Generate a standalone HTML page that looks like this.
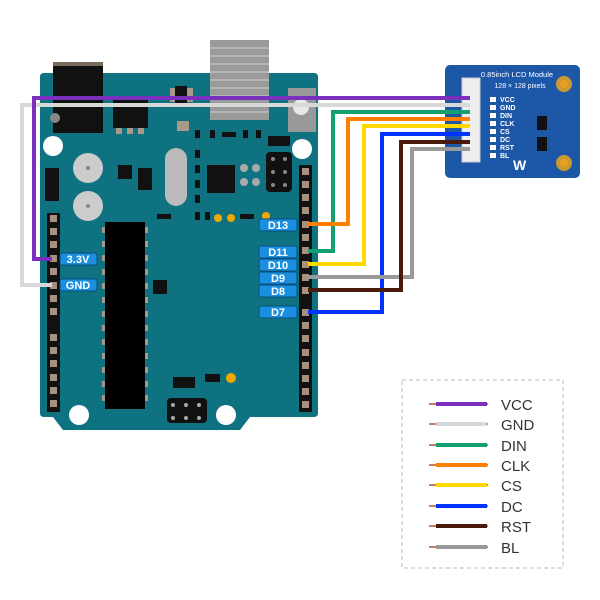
<!DOCTYPE html>
<html><head><meta charset="utf-8"><style>
html,body{margin:0;padding:0;background:#fff;width:600px;height:600px;overflow:hidden}
svg{display:block}
text{font-family:"Liberation Sans",sans-serif}
</style></head><body>
<svg width="600" height="600" viewBox="0 0 600 600" xmlns="http://www.w3.org/2000/svg">
<!-- USB -->
<rect x="210" y="40" width="59" height="80" fill="#9a9a9a"/>
<g stroke="#b5b5b5" stroke-width="2">
<line x1="210" y1="48" x2="269" y2="48"/><line x1="210" y1="56" x2="269" y2="56"/><line x1="210" y1="64" x2="269" y2="64"/><line x1="210" y1="72" x2="269" y2="72"/><line x1="210" y1="80" x2="269" y2="80"/><line x1="210" y1="88" x2="269" y2="88"/><line x1="210" y1="96" x2="269" y2="96"/><line x1="210" y1="104" x2="269" y2="104"/><line x1="210" y1="112" x2="269" y2="112"/>
</g>
<!-- board -->
<path d="M44 73 H314 Q318 73 318 77 V413 Q318 417 314 417 H250 L240 430 H63 L53 417 H44 Q40 417 40 413 V77 Q40 73 44 73 Z" fill="#0f7280"/>
<rect x="210" y="73" width="59" height="47" fill="#9a9a9a"/>
<g stroke="#b5b5b5" stroke-width="2">
<line x1="210" y1="80" x2="269" y2="80"/><line x1="210" y1="88" x2="269" y2="88"/><line x1="210" y1="96" x2="269" y2="96"/><line x1="210" y1="104" x2="269" y2="104"/><line x1="210" y1="112" x2="269" y2="112"/></g>
<!-- power jack -->
<rect x="53" y="62" width="50" height="71" fill="#111"/>
<rect x="53" y="62" width="50" height="4" fill="#7a6a5a"/>
<circle cx="55" cy="118" r="5" fill="#888"/>
<!-- regulator -->
<rect x="113" y="100" width="35" height="28" fill="#111"/>
<rect x="116" y="128" width="6" height="6" fill="#aa9988"/><rect x="127" y="128" width="6" height="6" fill="#aa9988"/><rect x="138" y="128" width="6" height="6" fill="#aa9988"/>
<rect x="170" y="88" width="8" height="14" fill="#aa9988"/><rect x="185" y="88" width="8" height="14" fill="#aa9988"/><rect x="175" y="86" width="12" height="18" fill="#111"/>
<rect x="177" y="121" width="12" height="10" fill="#aa9988"/>
<!-- reset button -->
<rect x="288" y="88" width="28" height="44" fill="#999"/>
<circle cx="301" cy="107" r="8" fill="#e8e8e8"/>
<!-- mounting holes -->
<circle cx="53" cy="146" r="10" fill="#fff"/>
<circle cx="302" cy="149" r="10" fill="#fff"/>
<circle cx="79" cy="415" r="10" fill="#fff"/>
<circle cx="226" cy="415" r="10" fill="#fff"/>
<!-- capacitors -->
<circle cx="88" cy="168" r="15" fill="#ccc"/><circle cx="88" cy="168" r="2" fill="#888"/>
<circle cx="88" cy="206" r="15" fill="#ccc"/><circle cx="88" cy="206" r="2" fill="#888"/>
<rect x="45" y="168" width="14" height="33" fill="#111"/>
<rect x="118" y="165" width="14" height="14" fill="#111"/>
<rect x="138" y="168" width="14" height="22" fill="#111"/>
<!-- crystal -->
<rect x="165" y="148" width="22" height="58" rx="11" fill="#bbb"/>
<!-- ic -->
<rect x="207" y="165" width="28" height="28" fill="#111"/>
<circle cx="244" cy="168" r="4" fill="#aaa"/><circle cx="256" cy="168" r="4" fill="#aaa"/><circle cx="244" cy="182" r="4" fill="#aaa"/><circle cx="256" cy="182" r="4" fill="#aaa"/>
<rect x="266" y="152" width="26" height="40" rx="4" fill="#111"/>
<g fill="#888"><circle cx="273" cy="159" r="2"/><circle cx="285" cy="159" r="2"/><circle cx="273" cy="172" r="2"/><circle cx="285" cy="172" r="2"/><circle cx="273" cy="185" r="2"/><circle cx="285" cy="185" r="2"/></g>
<g fill="#111"><rect x="195" y="130" width="5" height="8"/><rect x="210" y="130" width="5" height="8"/><rect x="222" y="132" width="14" height="5"/><rect x="243" y="130" width="5" height="8"/><rect x="256" y="130" width="5" height="8"/><rect x="268" y="136" width="22" height="10"/>
<rect x="195" y="150" width="5" height="8"/><rect x="195" y="165" width="5" height="8"/><rect x="195" y="180" width="5" height="8"/><rect x="195" y="195" width="5" height="8"/>
<rect x="157" y="214" width="14" height="5"/><rect x="195" y="212" width="5" height="8"/><rect x="205" y="212" width="5" height="8"/><rect x="240" y="214" width="14" height="5"/></g>
<circle cx="218" cy="218" r="4" fill="#f0a800"/><circle cx="231" cy="218" r="4" fill="#f0a800"/><circle cx="266" cy="216" r="4" fill="#f0a800"/>
<!-- big chip -->
<rect x="105" y="222" width="40" height="187" fill="#000"/>
<g fill="#aa9988">
<rect x="102" y="227" width="3" height="6"/><rect x="102" y="241" width="3" height="6"/><rect x="102" y="255" width="3" height="6"/><rect x="102" y="269" width="3" height="6"/><rect x="102" y="283" width="3" height="6"/><rect x="102" y="297" width="3" height="6"/><rect x="102" y="311" width="3" height="6"/><rect x="102" y="325" width="3" height="6"/><rect x="102" y="339" width="3" height="6"/><rect x="102" y="353" width="3" height="6"/><rect x="102" y="367" width="3" height="6"/><rect x="102" y="381" width="3" height="6"/><rect x="102" y="395" width="3" height="6"/>
<rect x="145" y="227" width="3" height="6"/><rect x="145" y="241" width="3" height="6"/><rect x="145" y="255" width="3" height="6"/><rect x="145" y="269" width="3" height="6"/><rect x="145" y="283" width="3" height="6"/><rect x="145" y="297" width="3" height="6"/><rect x="145" y="311" width="3" height="6"/><rect x="145" y="325" width="3" height="6"/><rect x="145" y="339" width="3" height="6"/><rect x="145" y="353" width="3" height="6"/><rect x="145" y="367" width="3" height="6"/><rect x="145" y="381" width="3" height="6"/><rect x="145" y="395" width="3" height="6"/>
</g>
<rect x="153" y="280" width="14" height="14" fill="#111"/><rect x="158" y="286" width="5" height="8" fill="#111"/>
<rect x="173" y="377" width="22" height="11" fill="#111"/>
<rect x="205" y="374" width="15" height="8" fill="#111"/>
<circle cx="231" cy="378" r="5" fill="#f0a800"/>
<rect x="167" y="398" width="40" height="25" rx="4" fill="#111"/>
<g fill="#aaa"><circle cx="173" cy="405" r="2"/><circle cx="186" cy="405" r="2"/><circle cx="199" cy="405" r="2"/><circle cx="173" cy="418" r="2"/><circle cx="186" cy="418" r="2"/><circle cx="199" cy="418" r="2"/></g>
<!-- left header -->
<rect x="47" y="213" width="13" height="199" fill="#111"/>
<g fill="#a89080">
<rect x="50" y="215" width="7" height="7"/><rect x="50" y="228" width="7" height="7"/><rect x="50" y="241" width="7" height="7"/><rect x="50" y="255" width="7" height="7"/><rect x="50" y="268" width="7" height="7"/><rect x="50" y="282" width="7" height="7"/><rect x="50" y="295" width="7" height="7"/><rect x="50" y="308" width="7" height="7"/>
<rect x="50" y="334" width="7" height="7"/><rect x="50" y="347" width="7" height="7"/><rect x="50" y="360" width="7" height="7"/><rect x="50" y="374" width="7" height="7"/><rect x="50" y="387" width="7" height="7"/><rect x="50" y="400" width="7" height="7"/></g>
<!-- right header -->
<rect x="299" y="165" width="13" height="247" fill="#111"/>
<g fill="#a89080">
<rect x="302" y="168" width="7" height="7"/><rect x="302" y="181" width="7" height="7"/><rect x="302" y="194" width="7" height="7"/><rect x="302" y="207" width="7" height="7"/><rect x="302" y="221" width="7" height="7"/><rect x="302" y="234" width="7" height="7"/><rect x="302" y="247" width="7" height="7"/><rect x="302" y="261" width="7" height="7"/><rect x="302" y="274" width="7" height="7"/><rect x="302" y="287" width="7" height="7"/>
<rect x="302" y="309" width="7" height="7"/><rect x="302" y="322" width="7" height="7"/><rect x="302" y="335" width="7" height="7"/><rect x="302" y="349" width="7" height="7"/><rect x="302" y="362" width="7" height="7"/><rect x="302" y="375" width="7" height="7"/><rect x="302" y="388" width="7" height="7"/><rect x="302" y="401" width="7" height="7"/></g>
<!-- labels -->
<g fill="#1a8fe0" stroke="#0a4f7a" stroke-width="1">
<rect x="60" y="253" width="37" height="12" rx="2"/><rect x="60" y="279" width="37" height="12" rx="2"/>
<rect x="259" y="219" width="38" height="12" rx="2"/><rect x="259" y="246" width="38" height="12" rx="2"/><rect x="259" y="259" width="38" height="12" rx="2"/><rect x="259" y="272" width="38" height="12" rx="2"/><rect x="259" y="285" width="38" height="12" rx="2"/><rect x="259" y="306" width="38" height="12" rx="2"/></g>
<g fill="#fff" font-size="11" font-weight="bold" text-anchor="middle">
<text x="78" y="263">3.3V</text><text x="78" y="289">GND</text>
<text x="278" y="229">D13</text><text x="278" y="256">D11</text><text x="278" y="269">D10</text><text x="278" y="282">D9</text><text x="278" y="295">D8</text><text x="278" y="316">D7</text></g>
<!-- LCD module -->
<rect x="445" y="65" width="135" height="113" rx="5" fill="#1d57a8"/>
<text x="517" y="77" font-size="7.5" fill="#fff" text-anchor="middle">0.85inch LCD Module</text>
<text x="520" y="88" font-size="7" fill="#fff" text-anchor="middle">128 × 128 pixels</text>
<circle cx="564" cy="84" r="8" fill="#c89a30"/><circle cx="564" cy="84" r="4" fill="#e8a020"/>
<circle cx="564" cy="163" r="8" fill="#c89a30"/><circle cx="564" cy="163" r="4" fill="#e8a020"/>
<g font-size="7" fill="#fff" font-weight="bold">
<text x="500" y="102">VCC</text><text x="500" y="110">GND</text><text x="500" y="118">DIN</text><text x="500" y="126">CLK</text><text x="500" y="134">CS</text><text x="500" y="142">DC</text><text x="500" y="150">RST</text><text x="500" y="158">BL</text></g>
<g fill="#fff"><rect x="490" y="97" width="6" height="5"/><rect x="490" y="105" width="6" height="5"/><rect x="490" y="113" width="6" height="5"/><rect x="490" y="121" width="6" height="5"/><rect x="490" y="129" width="6" height="5"/><rect x="490" y="137" width="6" height="5"/><rect x="490" y="145" width="6" height="5"/><rect x="490" y="153" width="6" height="5"/></g>
<rect x="537" y="116" width="10" height="14" fill="#111"/><rect x="537" y="137" width="10" height="14" fill="#111"/>
<text x="513" y="170" font-size="14" font-weight="bold" fill="#fff">W</text>
<rect x="462" y="78" width="18" height="84" fill="#eee" stroke="#ccc"/>
<!-- wires -->
<g fill="none" stroke-width="4" stroke-linejoin="miter">
<polyline points="52,285 22,285 22,105 470,105" stroke="#d8d8d8"/>
<polyline points="52,259 34,259 34,98 470,98" stroke="#7b2fbe"/>
<polyline points="308,251 333,251 333,112 470,112" stroke="#12a070"/>
<polyline points="308,224 348,224 348,119 470,119" stroke="#ff8000"/>
<polyline points="308,264 364,264 364,126 470,126" stroke="#ffd800"/>
<polyline points="308,312 382,312 382,134 470,134" stroke="#0033ff"/>
<polyline points="308,277 412,277 412,149 470,149" stroke="#999"/>
<polyline points="308,290 401,290 401,142 470,142" stroke="#4a1a0a"/>
</g>
<!-- legend -->
<rect x="402" y="380" width="161" height="188" fill="none" stroke="#bbb" stroke-dasharray="4,3"/>
<g stroke-width="2" stroke="#c08060"><line x1="429" y1="404" x2="488" y2="404"/><line x1="429" y1="424" x2="488" y2="424"/><line x1="429" y1="445" x2="488" y2="445"/><line x1="429" y1="465" x2="488" y2="465"/><line x1="429" y1="485" x2="488" y2="485"/><line x1="429" y1="506" x2="488" y2="506"/><line x1="429" y1="526" x2="488" y2="526"/><line x1="429" y1="547" x2="488" y2="547"/></g>
<g stroke-width="4">
<line x1="436" y1="404" x2="487" y2="404" stroke="#7b2fbe"/><line x1="436" y1="424" x2="487" y2="424" stroke="#d8d8d8"/><line x1="436" y1="445" x2="487" y2="445" stroke="#12a070"/><line x1="436" y1="465" x2="487" y2="465" stroke="#ff8000"/><line x1="436" y1="485" x2="487" y2="485" stroke="#ffd800"/><line x1="436" y1="506" x2="487" y2="506" stroke="#0033ff"/><line x1="436" y1="526" x2="487" y2="526" stroke="#4a1a0a"/><line x1="436" y1="547" x2="487" y2="547" stroke="#999"/></g>
<g font-size="15" fill="#333">
<text x="501" y="410">VCC</text><text x="501" y="430">GND</text><text x="501" y="451">DIN</text><text x="501" y="471">CLK</text><text x="501" y="491">CS</text><text x="501" y="512">DC</text><text x="501" y="532">RST</text><text x="501" y="553">BL</text></g>
</svg>
</body></html>
